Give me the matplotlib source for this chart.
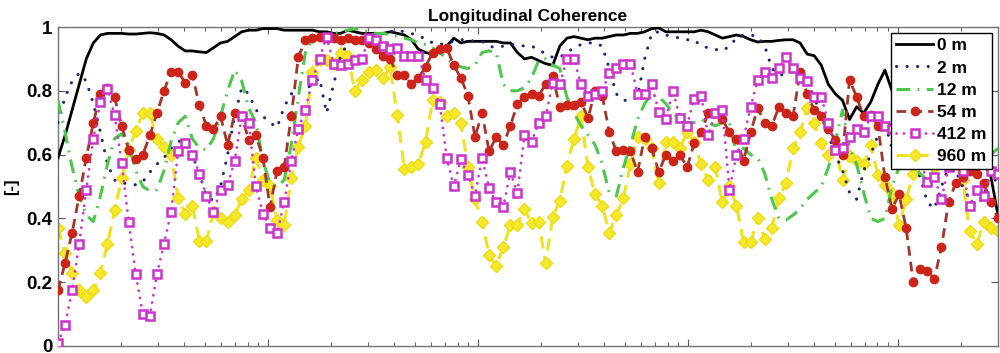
"""Coherence longitudinale pour plusieurs separations (0 m a 960 m)."""

import numpy as np
import matplotlib
matplotlib.use("Agg")
import matplotlib.pyplot as plt

plt.rcParams['font.family'] = ['Liberation Sans', 'DejaVu Sans']
plt.rcParams['font.weight'] = 'bold'

N_POINTS = 134
freq = np.logspace(-4, np.log10(3.0), N_POINTS)

labels = ["0 m", "2 m", "12 m", "54 m", "412 m", "960 m"]

coh_0m = [
    0.59, 0.66, 0.74, 0.82, 0.90, 0.95, 0.975, 0.98, 0.98, 0.98,
    0.978, 0.978, 0.98, 0.982, 0.98, 0.975, 0.96, 0.94, 0.925, 0.925,
    0.922, 0.92, 0.935, 0.95, 0.955, 0.97, 0.985, 0.99, 0.99, 0.995,
    0.995, 0.995, 0.99, 0.99, 0.99, 0.99, 0.99, 0.985, 0.985, 0.98,
    0.98, 0.99, 0.985, 0.98, 0.98, 0.98, 0.98, 0.985, 0.98, 0.975,
    0.96, 0.93, 0.92, 0.915, 0.92, 0.94, 0.965, 0.95, 0.955, 0.955,
    0.955, 0.955, 0.955, 0.95, 0.95, 0.92, 0.90, 0.905, 0.895, 0.885,
    0.88, 0.94, 0.965, 0.97, 0.965, 0.96, 0.965, 0.965, 0.97, 0.975,
    0.975, 0.98, 0.98, 0.985, 0.995, 0.997, 0.985, 0.985, 0.985, 0.985,
    0.985, 0.99, 0.985, 0.975, 0.965, 0.97, 0.975, 0.97, 0.96, 0.953,
    0.955, 0.955, 0.958, 0.96, 0.96, 0.95, 0.915, 0.91, 0.88, 0.82,
    0.79, 0.77, 0.71, 0.75, 0.73, 0.765, 0.82, 0.865, 0.80, 0.78,
    0.75, 0.72, 0.74, 0.70, 0.68, 0.70, 0.67, 0.65, 0.66, 0.63,
    0.62, 0.60, 0.53, 0.41,
]

coh_2m = [
    0.70, 0.78, 0.83, 0.855, 0.83, 0.76, 0.67, 0.57, 0.52, 0.51,
    0.51, 0.505, 0.515, 0.545, 0.57, 0.59, 0.62, 0.64, 0.65, 0.60,
    0.54, 0.47, 0.455, 0.50, 0.60, 0.72, 0.81, 0.79, 0.74, 0.72,
    0.70, 0.685, 0.75, 0.79, 0.81, 0.805, 0.82, 0.84, 0.73, 0.82,
    0.91, 0.95, 0.96, 0.965, 0.97, 0.975, 0.98, 0.985, 0.99, 0.985,
    0.98, 0.97, 0.965, 0.95, 0.945, 0.95, 0.955, 0.96, 0.96, 0.955,
    0.955, 0.94, 0.935, 0.94, 0.945, 0.945, 0.94, 0.94, 0.93, 0.915,
    0.905, 0.905, 0.92, 0.935, 0.945, 0.95, 0.95, 0.94, 0.87, 0.79,
    0.77, 0.77, 0.78, 0.90, 0.98, 0.985, 0.975, 0.97, 0.965, 0.96,
    0.96, 0.94, 0.935, 0.93, 0.925, 0.94, 0.965, 0.975, 0.975, 0.97,
    0.94, 0.87, 0.85, 0.85, 0.86, 0.845, 0.83, 0.78, 0.72, 0.66,
    0.60, 0.55, 0.48, 0.46, 0.55, 0.60, 0.66, 0.70, 0.62, 0.60,
    0.58, 0.56, 0.53, 0.45, 0.43, 0.50, 0.56, 0.55, 0.50, 0.46,
    0.44, 0.47, 0.55, 0.50,
]

coh_12m = [
    0.77, 0.67, 0.56, 0.47, 0.41, 0.39, 0.47, 0.57, 0.65, 0.665,
    0.63, 0.55, 0.50, 0.485, 0.49, 0.55, 0.64, 0.70, 0.72, 0.65,
    0.62, 0.615, 0.65, 0.72, 0.80, 0.865, 0.83, 0.745, 0.70, 0.58,
    0.51, 0.50, 0.52, 0.63, 0.78, 0.92, 0.96, 0.97, 0.975, 0.98,
    0.985, 0.99, 0.995, 0.99, 0.985, 0.98, 0.98, 0.975, 0.97, 0.965,
    0.96, 0.95, 0.945, 0.935, 0.92, 0.90, 0.885, 0.875, 0.87, 0.88,
    0.92, 0.925, 0.92, 0.82, 0.80, 0.80, 0.81, 0.84, 0.895, 0.90,
    0.88, 0.87, 0.78, 0.73, 0.69, 0.66, 0.63, 0.57, 0.48, 0.47,
    0.56, 0.63, 0.71, 0.76, 0.79, 0.78, 0.76, 0.73, 0.71, 0.70,
    0.70, 0.71, 0.70, 0.69, 0.70, 0.70, 0.60, 0.62, 0.60, 0.59,
    0.54, 0.46, 0.40, 0.395, 0.41, 0.43, 0.46, 0.48, 0.50, 0.56,
    0.64, 0.74, 0.62, 0.57, 0.48, 0.40, 0.39, 0.40, 0.50, 0.56,
    0.56, 0.57, 0.54, 0.52, 0.55, 0.58, 0.57, 0.56, 0.57, 0.58,
    0.57, 0.58, 0.60, 0.62,
]

coh_54m = [
    0.175, 0.26, 0.355, 0.47, 0.59, 0.70, 0.79, 0.81, 0.78, 0.69,
    0.615, 0.585, 0.60, 0.66, 0.73, 0.80, 0.86, 0.86, 0.825, 0.85,
    0.755, 0.69, 0.68, 0.72, 0.63, 0.73, 0.72, 0.645, 0.66, 0.59,
    0.435, 0.55, 0.56, 0.72, 0.905, 0.96, 0.965, 0.97, 0.965, 0.965,
    0.96, 0.965, 0.96, 0.96, 0.95, 0.93, 0.91, 0.90, 0.85, 0.85,
    0.82, 0.84, 0.875, 0.92, 0.93, 0.935, 0.88, 0.84, 0.785, 0.655,
    0.73, 0.61, 0.655, 0.63, 0.69, 0.76, 0.78, 0.79, 0.785, 0.82,
    0.845, 0.75, 0.755, 0.755, 0.765, 0.715, 0.80, 0.785, 0.67, 0.61,
    0.615, 0.61, 0.545, 0.655, 0.62, 0.545, 0.60, 0.58, 0.60, 0.56,
    0.635, 0.67, 0.73, 0.73, 0.71, 0.67, 0.65, 0.58, 0.67, 0.745,
    0.70, 0.69, 0.75, 0.73, 0.72, 0.86, 0.79, 0.74, 0.72, 0.68,
    0.645, 0.60, 0.835, 0.78, 0.72, 0.725, 0.69, 0.53, 0.43, 0.475,
    0.37, 0.20, 0.24, 0.235, 0.21, 0.31, 0.45, 0.51, 0.53, 0.55,
    0.54, 0.51, 0.45, 0.40,
]

coh_412m = [
    0.01, 0.065, 0.175, 0.32, 0.49, 0.65, 0.765, 0.805, 0.725, 0.575,
    0.39, 0.225, 0.10, 0.095, 0.225, 0.32, 0.42, 0.61, 0.635, 0.60,
    0.54, 0.47, 0.42, 0.49, 0.505, 0.58, 0.72, 0.70, 0.50, 0.415,
    0.37, 0.355, 0.45, 0.58, 0.68, 0.74, 0.835, 0.90, 0.97, 0.885,
    0.88, 0.885, 0.895, 0.90, 0.965, 0.96, 0.94, 0.93, 0.935, 0.91,
    0.91, 0.91, 0.835, 0.81, 0.76, 0.59, 0.50, 0.585, 0.535, 0.47,
    0.59, 0.495, 0.45, 0.435, 0.545, 0.48, 0.66, 0.64, 0.70, 0.72,
    0.825, 0.82, 0.90, 0.90, 0.82, 0.785, 0.79, 0.80, 0.855, 0.87,
    0.885, 0.885, 0.79, 0.79, 0.82, 0.735, 0.71, 0.80, 0.715, 0.69,
    0.775, 0.785, 0.66, 0.73, 0.74, 0.49, 0.60, 0.65, 0.75, 0.835,
    0.86, 0.84, 0.87, 0.905, 0.87, 0.84, 0.83, 0.78, 0.78, 0.70,
    0.615, 0.62, 0.655, 0.68, 0.67, 0.72, 0.72, 0.69, 0.68, 0.64,
    0.62, 0.60, 0.58, 0.515, 0.53, 0.46, 0.56, 0.60, 0.55, 0.44,
    0.49, 0.47, 0.55, 0.54,
]

coh_960m = [
    0.37, 0.29, 0.23, 0.175, 0.155, 0.175, 0.23, 0.32, 0.425, 0.525,
    0.615, 0.675, 0.73, 0.73, 0.65, 0.625, 0.60, 0.465, 0.415, 0.44,
    0.33, 0.33, 0.42, 0.40, 0.39, 0.41, 0.46, 0.49, 0.59, 0.52,
    0.50, 0.395, 0.38, 0.525, 0.625, 0.69, 0.86, 0.895, 0.895, 0.885,
    0.92, 0.91, 0.80, 0.835, 0.86, 0.865, 0.84, 0.875, 0.725, 0.555,
    0.56, 0.57, 0.64, 0.77, 0.765, 0.72, 0.73, 0.70, 0.56, 0.46,
    0.39, 0.285, 0.25, 0.31, 0.38, 0.38, 0.43, 0.385, 0.39, 0.26,
    0.405, 0.455, 0.565, 0.65, 0.72, 0.56, 0.475, 0.44, 0.355, 0.41,
    0.465, 0.57, 0.655, 0.65, 0.62, 0.51, 0.64, 0.64, 0.62, 0.67,
    0.64, 0.57, 0.52, 0.56, 0.45, 0.50, 0.44, 0.325, 0.325, 0.40,
    0.335, 0.37, 0.465, 0.51, 0.62, 0.67, 0.745, 0.70, 0.635, 0.60,
    0.62, 0.52, 0.595, 0.58, 0.57, 0.63, 0.535, 0.505, 0.48, 0.38,
    0.46, 0.54, 0.58, 0.60, 0.56, 0.58, 0.60, 0.57, 0.52, 0.36,
    0.32, 0.39, 0.37, 0.36,
]

yticks = [0, 0.2, 0.4, 0.6, 0.8, 1]
ytick_labels = ["0", "0.2", "0.4", "0.6", "0.8", "1"]

fig = plt.figure(figsize=(10, 3.53), dpi=100)
ax = fig.add_axes([0.058, 0.02, 0.94, 0.9035])

styles = [
    dict(color="black", ls="-", lw=2.0, zorder=3),
    dict(color="#1c2470", ls=(0, (0.05, 3.4)), lw=2.2, dash_capstyle="round", zorder=4),
    dict(color="#4cc84c", ls=(0, (4.5, 2.4, 0.6, 2.4)), lw=2.2, zorder=5),
    dict(color="#a3352a", ls=(0, (3.5, 2.2)), lw=2.0, marker="o", ms=6,
         mfc="#cc2418", mec="#cc2418", zorder=6),
    dict(color="#cc33cc", ls=(0, (0.05, 2.6)), lw=2.0, dash_capstyle="round", marker="s", ms=6,
         mfc="white", mec="#cc33cc", mew=1.8, zorder=7),
    dict(color="#f0e21e", ls=(0, (4, 2.5)), lw=2.2, marker="D", ms=6.5,
         mfc="#f5e82a", mec="#eedc10", zorder=2),
]

series = [coh_0m, coh_2m, coh_12m, coh_54m, coh_412m, coh_960m]
handles = []
for vals, lab, st in zip(series, labels, styles):
    h, = ax.plot(freq, vals, label=lab, **st)
    handles.append(h)

ax.set_xscale("log")
ax.set_xlim(1e-4, 3.0)
ax.set_ylim(0, 1)
ax.set_yticks(yticks)
ax.set_yticklabels(ytick_labels)
ax.tick_params(axis="both", which="major", direction="in", length=5, width=0.8,
               top=True, right=True, labelsize=13.5, labelbottom=False, colors="0.35",
               labelcolor="black", pad=4)
ax.tick_params(axis="x", which="minor", direction="in", length=3, width=0.7,
               top=True, bottom=True, colors="0.35")
for sp in ax.spines.values():
    sp.set_color("0.45")
    sp.set_linewidth(1.0)

ax.set_ylabel("[-]", fontsize=12, fontweight="bold", labelpad=5)
ax.set_title("Longitudinal Coherence", fontsize=12.5, fontweight="bold", pad=4)

leg = ax.legend(handles=handles, loc="upper right", fontsize=12.5, frameon=True,
                fancybox=False, edgecolor="black", framealpha=1,
                handlelength=2.1, handletextpad=0.25, labelspacing=0.4,
                borderpad=0.3, borderaxespad=0.35)
leg.get_frame().set_linewidth(1.0)
leg.set_zorder(10)

fig.savefig("out.png", dpi=100)
plt.close(fig)
